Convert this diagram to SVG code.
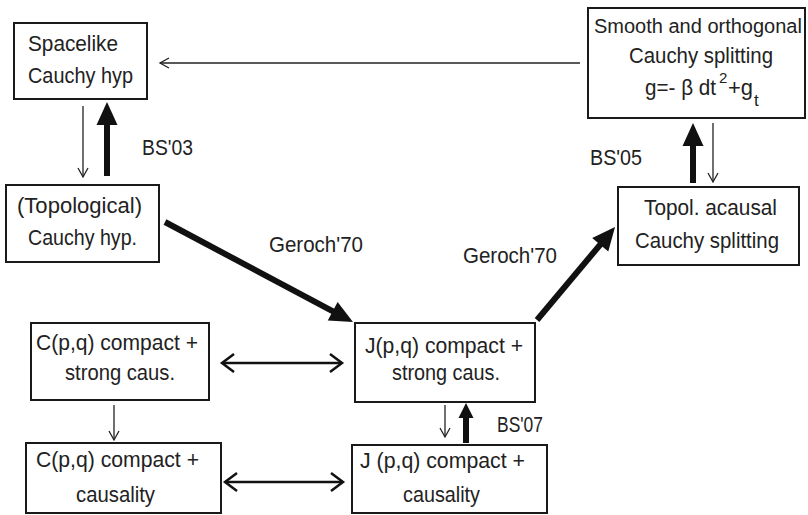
<svg xmlns="http://www.w3.org/2000/svg" width="808" height="515" viewBox="0 0 808 515">
<style>
  .box { fill: #fff; stroke: #1a1a1a; stroke-width: 2; }
  text { font-family: "Liberation Sans", Arial, sans-serif; font-size: 22px; fill: #222; }
  .thin { stroke: #222; stroke-width: 1.3; fill: none; }
  .dbl { stroke: #111; stroke-width: 2.5; fill: none; }
  .thick { stroke: #111; stroke-width: 6; fill: none; }
</style>
<defs>
  <marker id="thinHead" markerUnits="userSpaceOnUse" viewBox="-12 -8 14 16" refX="0" refY="0" markerWidth="14" markerHeight="16" orient="auto">
    <path d="M-9,-5 L0,0 L-9,5" fill="none" stroke="#222" stroke-width="1.3"/>
  </marker>
  <marker id="dblHead" markerUnits="userSpaceOnUse" viewBox="-15 -11 18 22" refX="0" refY="0" markerWidth="18" markerHeight="22" orient="auto-start-reverse">
    <path d="M-12,-9 L0,0 L-12,9" fill="none" stroke="#111" stroke-width="2.5"/>
  </marker>
  <marker id="thickHead" markerUnits="userSpaceOnUse" viewBox="-14 -14 30 28" refX="0" refY="0" markerWidth="30" markerHeight="28" orient="auto">
    <path d="M-11,-10.5 L12,0 L-11,10.5 z" fill="#111"/>
  </marker>
  <marker id="thickHeadSm" markerUnits="userSpaceOnUse" viewBox="-12 -10 24 20" refX="0" refY="0" markerWidth="24" markerHeight="20" orient="auto">
    <path d="M-7,-7.5 L8,0 L-7,7.5 z" fill="#111"/>
  </marker>
</defs>
<rect width="808" height="515" fill="#fff"/>

<g id="connectors">
  <!-- thin implications -->
  <line class="thin" x1="580" y1="63" x2="160" y2="63" marker-end="url(#thinHead)"/>
  <line class="thin" x1="83" y1="106" x2="83" y2="177" marker-end="url(#thinHead)"/>
  <line class="thin" x1="713" y1="123" x2="713" y2="182" marker-end="url(#thinHead)"/>
  <line class="thin" x1="445" y1="405" x2="445" y2="437" marker-end="url(#thinHead)"/>
  <line class="thin" x1="114" y1="405" x2="114" y2="440" marker-end="url(#thinHead)"/>
  <!-- equivalences -->
  <line class="dbl" x1="222" y1="363" x2="342" y2="363" marker-start="url(#dblHead)" marker-end="url(#dblHead)"/>
  <line class="dbl" x1="225" y1="482" x2="343" y2="482" marker-start="url(#dblHead)" marker-end="url(#dblHead)"/>
  <!-- thick theorem arrows -->
  <line class="thick" x1="107" y1="176" x2="107" y2="114" marker-end="url(#thickHead)"/>
  <line class="thick" x1="693" y1="183" x2="693" y2="135" marker-end="url(#thickHead)"/>
  <line class="thick" x1="466" y1="443" x2="466" y2="411" marker-end="url(#thickHeadSm)"/>
  <line class="thick" x1="165" y1="222" x2="342.4" y2="316.4" marker-end="url(#thickHead)"/>
  <line class="thick" x1="537" y1="320" x2="607.3" y2="236.2" marker-end="url(#thickHead)"/>
  <!-- labels -->
  <text x="142" y="155" textLength="51" lengthAdjust="spacingAndGlyphs">BS'03</text>
  <text x="590" y="165" textLength="52" lengthAdjust="spacingAndGlyphs">BS'05</text>
  <text x="497" y="432" textLength="46" lengthAdjust="spacingAndGlyphs">BS'07</text>
  <text x="269" y="252" textLength="94" lengthAdjust="spacingAndGlyphs">Geroch'70</text>
  <text x="463" y="263" textLength="94" lengthAdjust="spacingAndGlyphs">Geroch'70</text>
</g>

<g id="spacelike">
  <rect class="box" x="14" y="23" width="133" height="76"/>
  <text x="28" y="51" textLength="90" lengthAdjust="spacingAndGlyphs">Spacelike</text>
  <text x="28" y="83" textLength="105" lengthAdjust="spacingAndGlyphs">Cauchy hyp</text>
</g>

<g id="topological">
  <rect class="box" x="6" y="185" width="153" height="77"/>
  <text x="17" y="213" textLength="125" lengthAdjust="spacingAndGlyphs">(Topological)</text>
  <text x="28" y="245" textLength="109" lengthAdjust="spacingAndGlyphs">Cauchy hyp.</text>
</g>

<g id="smooth">
  <rect class="box" x="588" y="8" width="217" height="110"/>
  <text x="594" y="33" style="font-size:20px">Smooth and orthogonal</text>
  <text x="629" y="63" textLength="144" lengthAdjust="spacingAndGlyphs">Cauchy splitting</text>
  <text x="645" y="95" textLength="71" lengthAdjust="spacingAndGlyphs">g=- β dt</text>
  <text x="719" y="83" style="font-size:15px">2</text>
  <text x="728" y="95" textLength="25" lengthAdjust="spacingAndGlyphs">+g</text>
  <text x="754" y="106" style="font-size:17px">t</text>
</g>

<g id="acausal">
  <rect class="box" x="618" y="187" width="181" height="78"/>
  <text x="644" y="215" textLength="133" lengthAdjust="spacingAndGlyphs">Topol. acausal</text>
  <text x="635" y="248" textLength="144" lengthAdjust="spacingAndGlyphs">Cauchy splitting</text>
</g>

<g id="J-strong">
  <rect class="box" x="355" y="323" width="180" height="79"/>
  <text x="365" y="353" textLength="158" lengthAdjust="spacingAndGlyphs">J(p,q) compact +</text>
  <text x="392" y="380" textLength="108" lengthAdjust="spacingAndGlyphs">strong caus.</text>
</g>

<g id="J-causality">
  <rect class="box" x="352" y="445" width="195" height="68"/>
  <text x="360" y="468" textLength="165" lengthAdjust="spacingAndGlyphs">J (p,q) compact +</text>
  <text x="403" y="502" textLength="77" lengthAdjust="spacingAndGlyphs">causality</text>
</g>

<g id="C-strong">
  <rect class="box" x="31" y="323" width="178" height="77"/>
  <text x="36" y="350" textLength="162" lengthAdjust="spacingAndGlyphs">C(p,q) compact +</text>
  <text x="65" y="380" textLength="110" lengthAdjust="spacingAndGlyphs">strong caus.</text>
</g>

<g id="C-causality">
  <rect class="box" x="26" y="443" width="195" height="70"/>
  <text x="36" y="467" textLength="163" lengthAdjust="spacingAndGlyphs">C(p,q) compact +</text>
  <text x="76" y="502" textLength="79" lengthAdjust="spacingAndGlyphs">causality</text>
</g>
</svg>
